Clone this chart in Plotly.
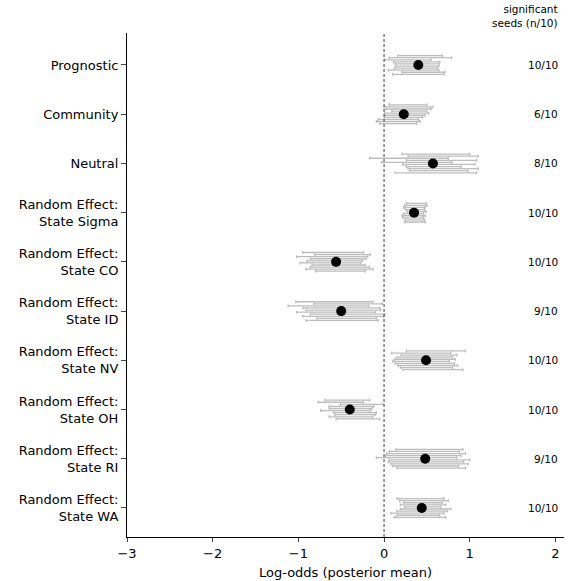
import numpy as np
import plotly.graph_objects as go

categories = ["Prognostic", "Community", "Neutral",
              "Random Effect:<br>State Sigma", "Random Effect:<br>State CO",
              "Random Effect:<br>State ID", "Random Effect:<br>State NV",
              "Random Effect:<br>State OH", "Random Effect:<br>State RI",
              "Random Effect:<br>State WA"]

means = [0.40, 0.23, 0.57, 0.35, -0.56, -0.50, 0.49, -0.40, 0.48, 0.44]

lows = [
    [0.16, 0.06, 0.01, 0.11, 0.13, 0.14, 0.12, 0.05, 0.21, 0.10],
    [0.06, 0.00, 0.02, 0.09, 0.005, 0.01, 0.003, -0.07, -0.09, -0.05],
    [0.21, 0.28, -0.17, 0.26, -0.03, 0.22, 0.26, 0.28, 0.30, 0.13],
    [0.26, 0.24, 0.23, 0.25, 0.27, 0.23, 0.21, 0.22, 0.25, 0.24],
    [-0.95, -0.81, -1.02, -0.86, -0.90, -0.98, -0.84, -0.86, -0.91, -0.80],
    [-1.03, -0.82, -1.12, -0.95, -0.91, -1.02, -0.86, -0.95, -0.78, -0.91],
    [0.26, 0.09, 0.20, 0.15, 0.12, 0.10, 0.13, 0.16, 0.19, 0.22],
    [-0.69, -0.77, -0.51, -0.64, -0.64, -0.74, -0.59, -0.57, -0.64, -0.56],
    [0.14, 0.06, 0.03, 0.02, -0.09, 0.06, 0.05, 0.08, 0.10, 0.15],
    [0.15, 0.18, 0.23, 0.19, 0.24, 0.19, 0.15, 0.08, 0.15, 0.12],
]
highs = [
    [0.68, 0.79, 0.55, 0.65, 0.64, 0.64, 0.62, 0.64, 0.71, 0.70],
    [0.50, 0.57, 0.55, 0.50, 0.52, 0.48, 0.45, 0.40, 0.42, 0.38],
    [1.00, 1.10, 0.75, 1.08, 0.79, 1.06, 0.90, 1.10, 0.98, 1.08],
    [0.49, 0.50, 0.48, 0.47, 0.49, 0.46, 0.48, 0.46, 0.47, 0.48],
    [-0.24, -0.16, -0.19, -0.21, -0.25, -0.27, -0.22, -0.17, -0.13, -0.22],
    [-0.13, -0.02, -0.18, -0.05, -0.04, -0.10, 0.01, -0.005, -0.09, -0.07],
    [0.95, 0.78, 0.85, 0.80, 0.83, 0.76, 0.82, 0.86, 0.80, 0.92],
    [-0.17, -0.24, -0.01, -0.12, -0.14, -0.16, -0.09, -0.10, -0.13, -0.05],
    [0.92, 0.88, 0.95, 0.90, 0.85, 1.00, 0.93, 0.98, 0.87, 0.95],
    [0.70, 0.75, 0.68, 0.72, 0.66, 0.78, 0.74, 0.70, 0.65, 0.72],
]

sig_labels = ["10/10", "6/10", "8/10", "10/10", "10/10", "9/10", "10/10", "10/10", "9/10", "10/10"]

xticks = [-3, -2, -1, 0, 1, 2]
x_title = "Log-odds (posterior mean)"

FONT = "DejaVu Sans"
fig = go.Figure()

offsets = np.linspace(-0.19, 0.19, 10)
for i in range(len(categories)):
    lo = np.array(lows[i])
    hi = np.array(highs[i])
    ys = i + offsets
    fig.add_trace(go.Scatter(
        x=lo, y=ys, mode="markers",
        marker=dict(size=1, opacity=0),
        error_x=dict(type="data", symmetric=False, array=hi - lo,
                     arrayminus=np.zeros_like(lo), color="#bdbdbd",
                     thickness=1.3, width=1.5),
        showlegend=False, hoverinfo="skip"))

fig.add_trace(go.Scatter(
    x=means, y=list(range(len(categories))), mode="markers",
    marker=dict(size=10, color="black"), showlegend=False))

fig.add_shape(type="line", x0=0, x1=0, xref="x", y0=0, y1=1, yref="paper",
              line=dict(color="#444444", width=1, dash="3px,2px"))

for i, s in enumerate(sig_labels):
    fig.add_annotation(x=0.991, xref="paper", y=i, yref="y", text=s,
                       showarrow=False, xanchor="right", yanchor="middle",
                       font=dict(family=FONT, size=10.5, color="black"))

fig.add_annotation(x=0.991, xref="paper", y=1.004, yref="paper",
                   text="significant<br>seeds (n/10)", showarrow=False,
                   xanchor="right", yanchor="bottom", align="right",
                   font=dict(family=FONT, size=10.5, color="black"))

fig.add_annotation(x=0.5, xref="paper", y=-0.071, yref="paper",
                   text=x_title, showarrow=False,
                   xanchor="center", yanchor="middle",
                   font=dict(family=FONT, size=13, color="black"))

fig.update_layout(
    width=571, height=581,
    margin=dict(l=127, r=7, t=33, b=44),
    plot_bgcolor="white", paper_bgcolor="white",
    font=dict(family=FONT, size=13, color="black"),
    xaxis=dict(range=[-3, 2.1], tickvals=xticks, ticks="outside", ticklen=4,
               showgrid=False, zeroline=False, showline=True,
               linecolor="black", linewidth=1, automargin=False,
               tickfont=dict(size=13)),
    yaxis=dict(range=[9.59, -0.65], tickvals=list(range(len(categories))),
               ticktext=categories, ticks="outside", ticklen=5,
               showgrid=False, zeroline=False, showline=True,
               linecolor="black", linewidth=1, automargin=False,
               tickfont=dict(size=13)),
)

fig.write_html("out.html", config={"displayModeBar": False},
               post_script="document.body.style.margin='0';document.body.style.overflow='hidden';")
